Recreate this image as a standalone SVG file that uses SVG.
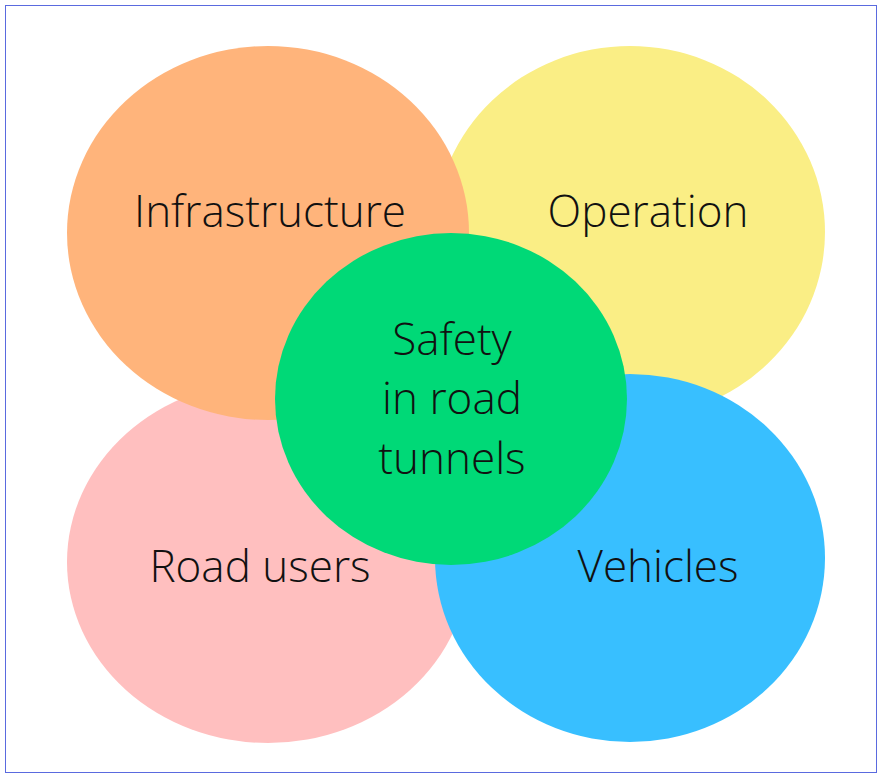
<svg xmlns="http://www.w3.org/2000/svg" width="882" height="778" viewBox="0 0 882 778">
<style>
text{font-family:"Open Sans","Liberation Sans",sans-serif;font-weight:300;font-size:44px;fill:#111;text-anchor:middle}
</style>
<rect x="0" y="0" width="882" height="778" fill="#fff"/>
<rect x="5.5" y="5.5" width="871" height="767" fill="none" stroke="#5a6adf" stroke-width="1"/>
<g id="operation"><ellipse cx="630" cy="232" rx="195" ry="186" fill="#faee85"/><text x="648" y="227">Operation</text></g>
<g id="road-users"><ellipse cx="268" cy="562" rx="201" ry="181" fill="#ffbfbf"/><text x="260" y="582">Road users</text></g>
<g id="infrastructure"><ellipse cx="268" cy="233" rx="201" ry="187" fill="#ffb47b"/><text x="270" y="227">Infrastructure</text></g>
<g id="vehicles"><ellipse cx="630" cy="558" rx="195" ry="184" fill="#38bfff"/><text x="658" y="582">Vehicles</text></g>
<g id="safety"><ellipse cx="451" cy="399" rx="176" ry="166" fill="#00d977"/>
<text x="452" y="355">Safety</text><text x="452" y="414">in road</text><text x="452" y="474">tunnels</text></g>
<g id="connectors"/>
</svg>
